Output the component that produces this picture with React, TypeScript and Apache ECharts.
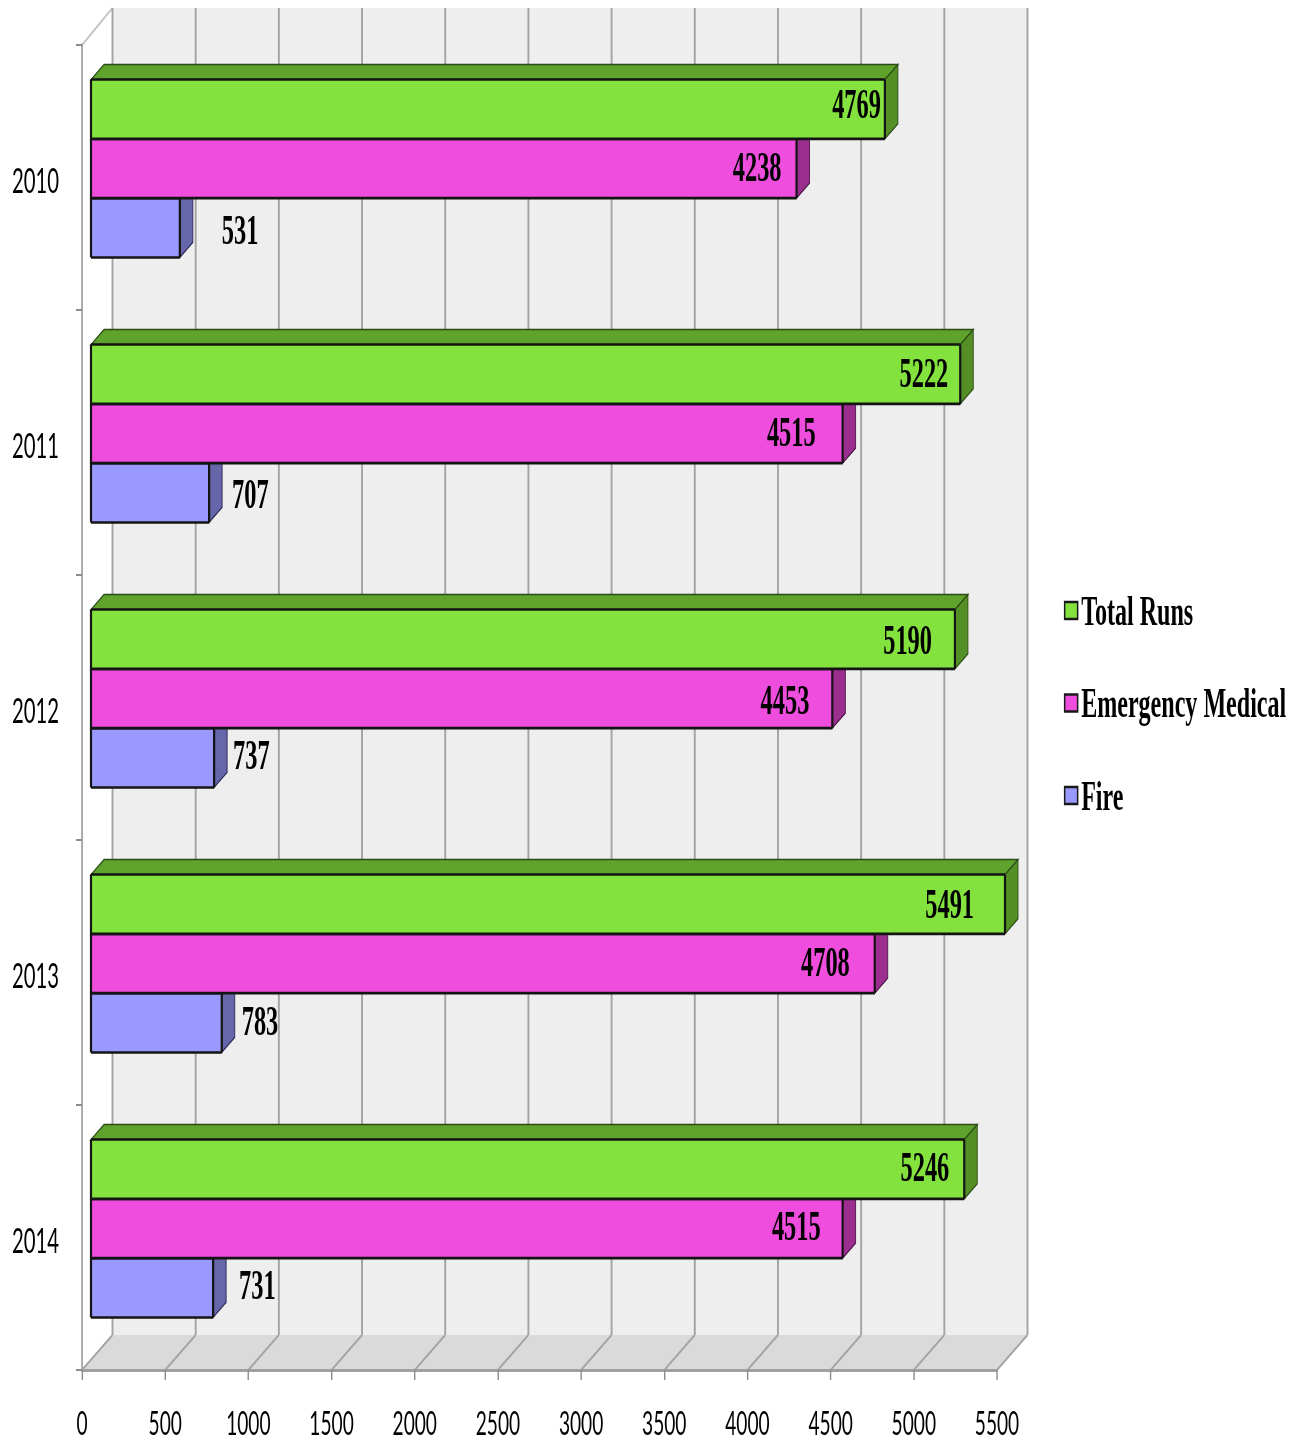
import React, { useEffect, useRef } from "react";
import * as echarts from "echarts";

const years = ["2010", "2011", "2012", "2013", "2014"];
const totalRuns = [4769, 5222, 5190, 5491, 5246];
const emergencyMedical = [4238, 4515, 4453, 4708, 4515];
const fire = [531, 707, 737, 783, 731];
const tickValues = [0, 500, 1000, 1500, 2000, 2500, 3000, 3500, 4000, 4500, 5000, 5500];

// Hand-placed label nudges of the original, in page pixels from the bar's end and middle
const totalNudge = [[-4, -6], [-12, -2], [-23, 0], [-31, -1], [-15, -3]];
const medicalNudge = [[-15, -2], [-27, -2], [-23, 1], [-25, -2], [-22, -3]];
const fireNudge = [[42, 2], [23, 1], [19, -3], [20, -2], [26, -3]];

// The whole chart is squeezed horizontally, as the reference image was
const SQUEEZE = 0.58;
const WIDTH = 1305;
const HEIGHT = 1441;
const sx = (px: number) => px / SQUEEZE;

const LINE = "#a3a3a3";
const OUTLINE = "#141414";

function barSeries(
  name: string,
  values: number[],
  slot: number,
  front: string,
  top: string,
  side: string,
  outline: string,
  nudge: number[][],
  align: string,
  z: number
) {
  return {
    type: "custom",
    name,
    z,
    coordinateSystem: "cartesian2d",
    encode: { x: 0, y: 1 },
    itemStyle: { color: front },
    data: values.map((v, i) => [v, i]),
    renderItem(_: any, api: any) {
      const value = api.value(0);
      const cat = api.value(1);
      const band = api.size([0, 1])[1];
      const h = band * 0.2238;
      const base = api.coord([0, cat]);
      const end = api.coord([value, cat]);
      const x0 = base[0] + sx(9);
      const x1 = end[0] + sx(9.5);
      const y0 = base[1] - 9 + (slot - 1.5) * h;
      const y1 = y0 + h;
      const dx = sx(13);
      const dy = 15;
      const i = cat;
      const vw = sx(2.2);
      return {
        type: "group",
        children: [
          {
            type: "polygon",
            shape: { points: [[x0, y0], [x0 + dx, y0 - dy], [x1 + dx, y0 - dy], [x1, y0]] },
            style: { fill: top, stroke: outline, lineWidth: 1.5 },
          },
          {
            type: "polygon",
            shape: { points: [[x1, y0], [x1 + dx, y0 - dy], [x1 + dx, y1 - dy], [x1, y1]] },
            style: { fill: side, stroke: outline, lineWidth: 1.5 },
          },
          { type: "rect", shape: { x: x0, y: y0, width: x1 - x0, height: h }, style: { fill: front } },
          { type: "line", shape: { x1: x0, y1: y0, x2: x1, y2: y0 }, style: { stroke: OUTLINE, lineWidth: 2.6 } },
          { type: "line", shape: { x1: x0, y1: y1, x2: x1, y2: y1 }, style: { stroke: OUTLINE, lineWidth: 2.6 } },
          { type: "line", shape: { x1: x0, y1: y0, x2: x0, y2: y1 }, style: { stroke: OUTLINE, lineWidth: vw } },
          { type: "line", shape: { x1: x1, y1: y0, x2: x1, y2: y1 }, style: { stroke: OUTLINE, lineWidth: vw } },
          {
            type: "text",
            z2: 10,
            style: {
              text: String(value),
              x: x1 + sx(nudge[i][0]),
              y: (y0 + y1) / 2 + nudge[i][1],
              align,
              verticalAlign: "middle",
              fill: "#000",
              font: 'bold 42px "Liberation Serif"',
            },
          },
        ],
      };
    },
  };
}

const wallSeries = {
  type: "custom",
  name: "walls",
  z: 0,
  silent: true,
  coordinateSystem: "cartesian2d",
  encode: { x: 0 },
  data: tickValues.map((v) => [v, 0]),
  renderItem(params: any, api: any) {
    const rect = params.coordSys;
    const bx = sx(30.5);
    const topY = 8;
    const floorY = 1335;
    const frontY = rect.y + rect.height;
    const x = api.coord([api.value(0), 0])[0];
    const children: any[] = [];
    if (params.dataIndex === 0) {
      const left = rect.x;
      const right = rect.x + rect.width;
      children.push(
        {
          type: "rect",
          shape: { x: left + bx, y: topY, width: rect.width, height: floorY - topY },
          style: { fill: "#eeeeee" },
        },
        {
          type: "polygon",
          shape: { points: [[left, frontY], [left + bx, floorY], [right + bx, floorY], [right, frontY]] },
          style: { fill: "#dadada" },
        },
        {
          type: "line",
          shape: { x1: left, y1: rect.y, x2: left + bx, y2: topY },
          style: { stroke: "#c4c4c4", lineWidth: 2.5 },
        }
      );
    }
    children.push(
      {
        type: "line",
        shape: { x1: x + bx, y1: topY, x2: x + bx, y2: floorY },
        style: { stroke: LINE, lineWidth: sx(1.9) },
      },
      {
        type: "line",
        shape: { x1: x + bx, y1: floorY, x2: x, y2: frontY },
        style: { stroke: LINE, lineWidth: 2.5 },
      }
    );
    return { type: "group", children };
  },
};

export default function App() {
  const ref = useRef<HTMLDivElement>(null);

  useEffect(() => {
    if (!ref.current) return;
    const chart = echarts.init(ref.current, undefined, { renderer: "svg" });
    chart.setOption({
      animation: false,
      backgroundColor: "#fff",
      grid: { left: sx(82), width: sx(915), top: 45, height: 1325, containLabel: false, outerBoundsMode: "none" },
      xAxis: {
        type: "value",
        min: 0,
        max: 5500,
        interval: 500,
        z: 1,
        splitLine: { show: false },
        axisLine: { show: true, onZero: false, lineStyle: { color: "#a0a0a0", width: 3 } },
        axisTick: { show: true, length: 10, lineStyle: { color: "#8c8c8c", width: sx(1.4) } },
        axisLabel: {
          fontFamily: "Lato",
          fontSize: 33,
          color: "#000",
          margin: 38,
          lineHeight: 28,
          hideOverlap: false,
          formatter: (v: number) => String(v),
        },
      },
      yAxis: {
        type: "category",
        data: years,
        inverse: true,
        z: 1,
        axisLine: { show: true, onZero: false, lineStyle: { color: "#a8a8a8", width: sx(1.9) } },
        axisTick: { show: true, length: sx(6), lineStyle: { color: "#8c8c8c", width: 2 } },
        axisLabel: {
          margin: sx(23),
          formatter: (v: string) => `{y|${v}}`,
          rich: {
            y: { fontFamily: "Lato", fontSize: 35, color: "#000", padding: [5, 0, 0, 0] },
          },
        },
      },
      legend: {
        orient: "vertical",
        left: sx(1061),
        top: 584.5,
        data: ["Total Runs", "Emergency Medical", "Fire"],
        icon: "rect",
        itemWidth: sx(13),
        itemHeight: 17,
        itemGap: 50.5,
        selectedMode: false,
        itemStyle: { borderColor: "#1a1a1a", borderWidth: 2.6 },
        textStyle: {
          fontFamily: "Liberation Serif",
          fontWeight: "bold",
          fontSize: 41.5,
          color: "#000",
          padding: [0, 0, 0, 1],
        },
      },
      series: [
        wallSeries,
        barSeries("Total Runs", totalRuns, 0, "#83e23d", "#5fa32c", "#548f26", "#2c4a14", totalNudge, "right", 5),
        barSeries("Emergency Medical", emergencyMedical, 1, "#ee4ddd", "#a32d96", "#9c2e90", "#4a1544", medicalNudge, "right", 4),
        barSeries("Fire", fire, 2, "#9999ff", "#6666aa", "#6666aa", "#2a2a55", fireNudge, "left", 3),
      ],
    });
    return () => chart.dispose();
  }, []);

  return (
    <div
      style={{
        position: "absolute",
        left: 0,
        top: 0,
        width: WIDTH,
        height: HEIGHT,
        overflow: "hidden",
        background: "#fff",
        filter: "blur(0.4px)",
      }}
    >
      <div
        ref={ref}
        style={{
          width: sx(WIDTH),
          height: HEIGHT,
          transform: `scaleX(${SQUEEZE})`,
          transformOrigin: "0 0",
        }}
      />
    </div>
  );
}
